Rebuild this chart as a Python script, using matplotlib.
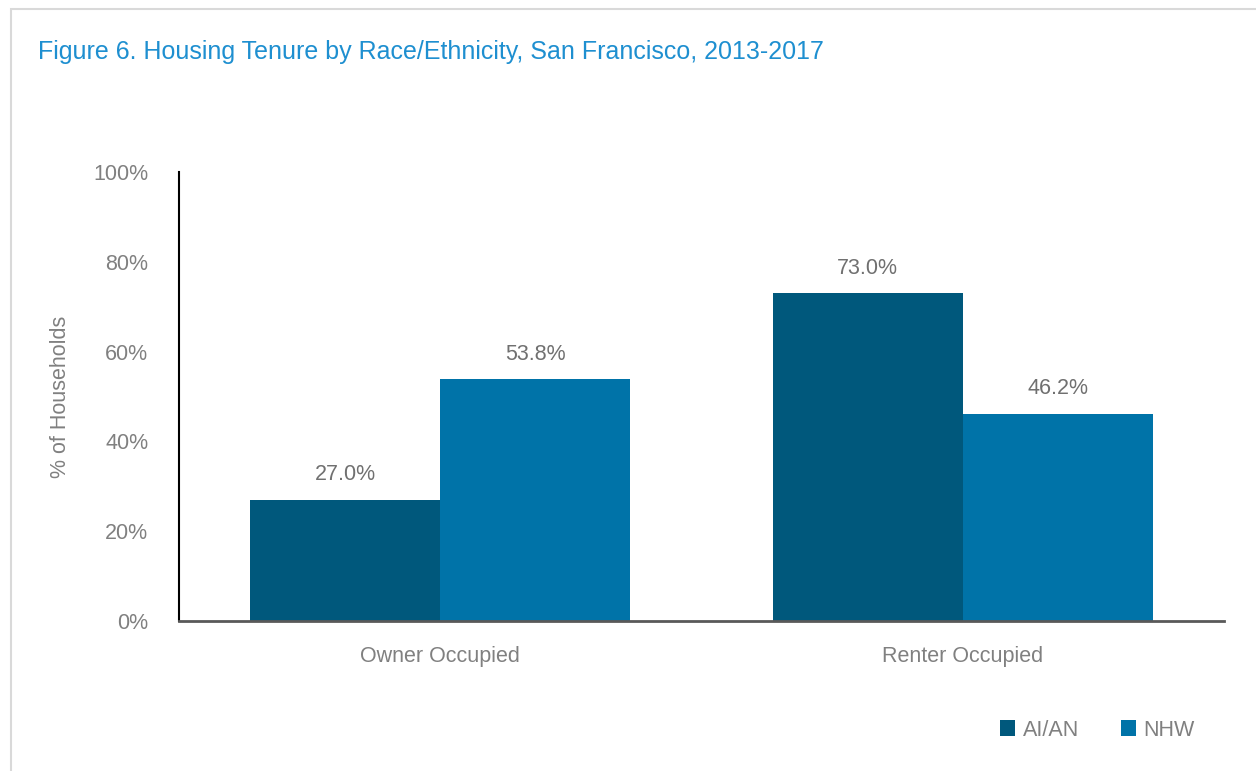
import matplotlib.pyplot as plt
import numpy as np
from matplotlib.patches import Rectangle

plt.rcParams['font.family'] = ['Liberation Sans Narrow', 'Liberation Sans', 'DejaVu Sans']

categories = ['Owner Occupied', 'Renter Occupied']
series_names = ['AI/AN', 'NHW']
aian_values = [27.0, 73.0]
nhw_values = [53.8, 46.2]
y_ticks = [0, 20, 40, 60, 80, 100]

dark_blue = '#00587c'
mid_blue = '#0073a8'
gray_text = '#808080'

fig = plt.figure(figsize=(12.56, 7.71), dpi=100)
ax = fig.add_axes([179/1256, 1 - 621/771, (1224-179)/1256, (621-172)/771])

# light frame around the whole chart
fig.patches.append(Rectangle((11/1256, -0.05), 1.2, 1 - 9/771 + 0.05, transform=fig.transFigure,
                             fill=False, edgecolor='#d9d9d9', linewidth=1.5))

x = np.arange(len(categories))
w = 0.3635
b1 = ax.bar(x - w/2, aian_values, w, color=dark_blue, label=series_names[0])
b2 = ax.bar(x + w/2, nhw_values, w, color=mid_blue, label=series_names[1])

for bars, vals in [(b1, aian_values), (b2, nhw_values)]:
    for rect, v in zip(bars, vals):
        ax.text(rect.get_x() + rect.get_width()/2, v + 3.2, f'{v:.1f}%', ha='center', va='bottom',
                fontsize=15.5, color='#707070')

ax.set_xlim(-0.5, 1.5)
ax.set_ylim(0, 100)
ax.set_yticks(y_ticks)
ax.set_yticklabels([f'{t}%' for t in y_ticks])
ax.set_xticks(x)
ax.set_xticklabels(categories)
ax.tick_params(axis='both', length=0, labelsize=15.5, labelcolor=gray_text)
ax.tick_params(axis='y', pad=22)
ax.tick_params(axis='x', pad=18)
for s in ['top', 'right']:
    ax.spines[s].set_visible(False)
ax.spines['left'].set_color('black')
ax.spines['left'].set_linewidth(1.5)
ax.spines['bottom'].set_color('#595959')
ax.spines['bottom'].set_linewidth(2)
ax.set_ylabel('% of Households', fontsize=15.5, color=gray_text, labelpad=16)

fig.text(38/1256, 1 - 52/771, 'Figure 6. Housing Tenure by Race/Ethnicity, San Francisco, 2013-2017',
         fontsize=18, color='#1e8fd0', va='center', ha='left')

leg = fig.legend(handles=[b1, b2], loc='center right', bbox_to_anchor=(1214/1256, 1 - 730/771),
                 ncol=2, frameon=False, fontsize=15.5, handlelength=0.7, handleheight=0.7,
                 columnspacing=1.95, handletextpad=0.35)
for t in leg.get_texts():
    t.set_color(gray_text)

fig.savefig('out.png', dpi=100)
